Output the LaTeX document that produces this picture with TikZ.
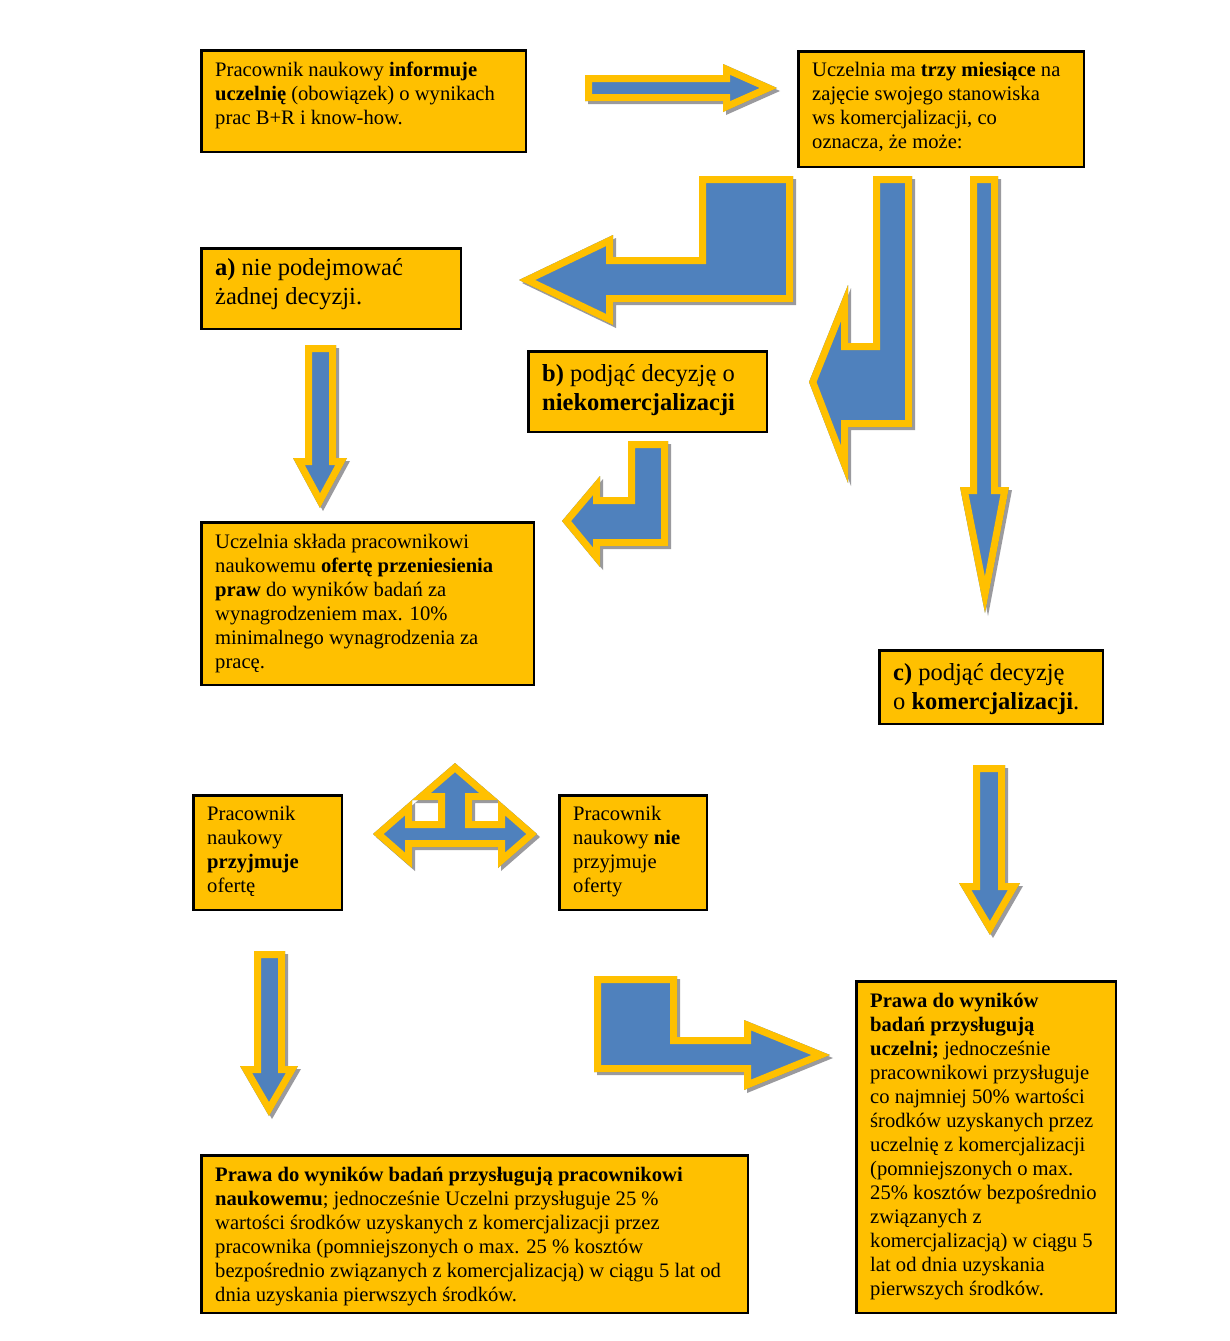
\documentclass[tikz,border=0pt]{standalone}
\usepackage{fontspec}
\setmainfont{Liberation Serif}
\definecolor{boxgold}{HTML}{FFC000}
\definecolor{arrblue}{HTML}{4F81BD}
\definecolor{arrgold}{HTML}{FFC000}
\definecolor{shadowgray}{HTML}{9A9A9E}
\tikzset{
  boxnode/.style={draw=black, line width=2.8pt, fill=boxgold, inner sep=0pt, anchor=north west},
  txt/.style={anchor=north west, inner sep=0pt, align=left, text=black, font=\fontsize{20.6}{24}\selectfont},
  bigtxt/.style={anchor=north west, inner sep=0pt, align=left, text=black, font=\fontsize{24.5}{29}\selectfont},
}
\newcommand\mkbox[5]{\node[boxnode, minimum width={#4-#2-2.8}, minimum height={#5-#3-2.8}] (#1) at ({#2+1.4},{#3+1.4}) {};}
\newcommand\blockarrow[1]{%
  \fill[shadowgray, xshift=3pt, yshift=-3pt] #1;
  \begin{scope}
    \fill[arrblue] #1;
    \clip #1;
    \draw[arrgold, line width=14pt, line join=miter] #1;
  \end{scope}}
\begin{document}
\begin{tikzpicture}[x=1pt,y=-1pt]
\fill[white] (0,0) rectangle (1230,1341);
\useasboundingbox (0,0) rectangle (1230,1341);

% boxes
\mkbox{b1}{199}{48}{526}{152}
\mkbox{b2}{796}{49}{1084}{167}
\mkbox{ba}{199}{246}{461}{329}
\mkbox{bb}{526}{349}{767}{432}
\mkbox{bo}{199}{520}{534}{685}
\mkbox{bc}{877}{648}{1103}{724}
\mkbox{bp}{191}{793}{342}{910}
\mkbox{bn}{557}{793}{707}{910}
\mkbox{bu}{854}{979}{1116}{1313}
\mkbox{bw}{199}{1153}{748}{1313}

% texts
\node[txt] (t1) at (215,56) {\rule{0pt}{20pt}Pracownik naukowy \textbf{informuje}\\
\textbf{uczelnię} (obowiązek) o wynikach\\ prac B+R i know-how.};
\node[txt] (t2) at (812,56) {\rule{0pt}{20pt}Uczelnia ma \textbf{trzy miesiące} na\\
zajęcie swojego stanowiska\\ ws komercjalizacji, co\\ oznacza, że może:};
\node[bigtxt] (ta) at (215,251) {\rule{0pt}{24pt}\textbf{a)} nie podejmować\\ żadnej decyzji.};
\node[bigtxt] (tb) at (542,357) {\rule{0pt}{24pt}\textbf{b)} podjąć decyzję o\\ \textbf{niekomercjalizacji}};
\node[txt] (to) at (215,528) {\rule{0pt}{20pt}Uczelnia składa pracownikowi\\
naukowemu \textbf{ofertę przeniesienia}\\ \textbf{praw} do wyników badań za\\
wynagrodzeniem max. 10\%\\ minimalnego wynagrodzenia za\\ pracę.};
\node[bigtxt] (tc) at (893,656) {\rule{0pt}{24pt}\textbf{c)} podjąć decyzję\\ o \textbf{komercjalizacji}.};
\node[txt] (tp) at (207,800) {\rule{0pt}{20pt}Pracownik\\ naukowy\\ \textbf{przyjmuje}\\ ofertę};
\node[txt] (tn) at (573,800) {\rule{0pt}{20pt}Pracownik\\ naukowy \textbf{nie}\\ przyjmuje\\ oferty};
\node[txt] (tu) at (870,987) {\rule{0pt}{20pt}\textbf{Prawa do wyników}\\ \textbf{badań przysługują}\\
\textbf{uczelni;} jednocześnie\\ pracownikowi przysługuje\\ co najmniej 50\% wartości\\
środków uzyskanych przez\\ uczelnię z komercjalizacji\\ (pomniejszonych o max.\\
25\% kosztów bezpośrednio\\ związanych z\\ komercjalizacją) w ciągu 5\\
lat od dnia uzyskania\\ pierwszych środków.};
\node[txt] (tw) at (215,1161) {\rule{0pt}{20pt}\textbf{Prawa do wyników badań przysługują pracownikowi}\\
\textbf{naukowemu}; jednocześnie Uczelni przysługuje 25 \%\\
wartości środków uzyskanych z komercjalizacji przez\\
pracownika (pomniejszonych o max. 25 \% kosztów\\
bezpośrednio związanych z komercjalizacją) w ciągu 5 lat od\\
dnia uzyskania pierwszych środków.};

% block arrows
\blockarrow{(585,75)--(723,75)--(723,64)--(777,88)--(723,112)--(723,101)--(585,101)--cycle}
\blockarrow{(699,176)--(793,176)--(793,302)--(613,302)--(613,325)--(519,280)--(613,235)--(613,257)--(699,257)--cycle}
\blockarrow{(873,176)--(912,176)--(912,427)--(848,427)--(848,483)--(809,382)--(848,285)--(848,343)--(873,343)--cycle}
\blockarrow{(970,176)--(998,176)--(998,487)--(1009,487)--(985,613)--(960,487)--(970,487)--cycle}
\blockarrow{(305,345)--(336,345)--(336,458)--(347,458)--(320,508)--(293,458)--(305,458)--cycle}
\blockarrow{(628,441)--(668,441)--(668,546)--(600,546)--(600,567)--(562,521)--(600,476)--(600,497)--(628,497)--cycle}
\blockarrow{(973,765)--(1005,765)--(1005,883)--(1020,883)--(990,935)--(959,883)--(973,883)--cycle}
\blockarrow{(373,834)--(412,800)--(412,821)--(438,821)--(438,800)--(412,800)--(455,763)--(498,800)--(472,800)--(472,821)--(498,821)--(498,800)--(537,834)--(498,868)--(498,847)--(412,847)--(412,868)--cycle}
\blockarrow{(254,951)--(285,951)--(285,1066)--(298,1066)--(269,1116)--(240,1066)--(254,1066)--cycle}
\blockarrow{(594,976)--(677,976)--(677,1037)--(744,1037)--(744,1020)--(830,1055)--(744,1090)--(744,1072)--(594,1072)--cycle}
\end{tikzpicture}
\end{document}
